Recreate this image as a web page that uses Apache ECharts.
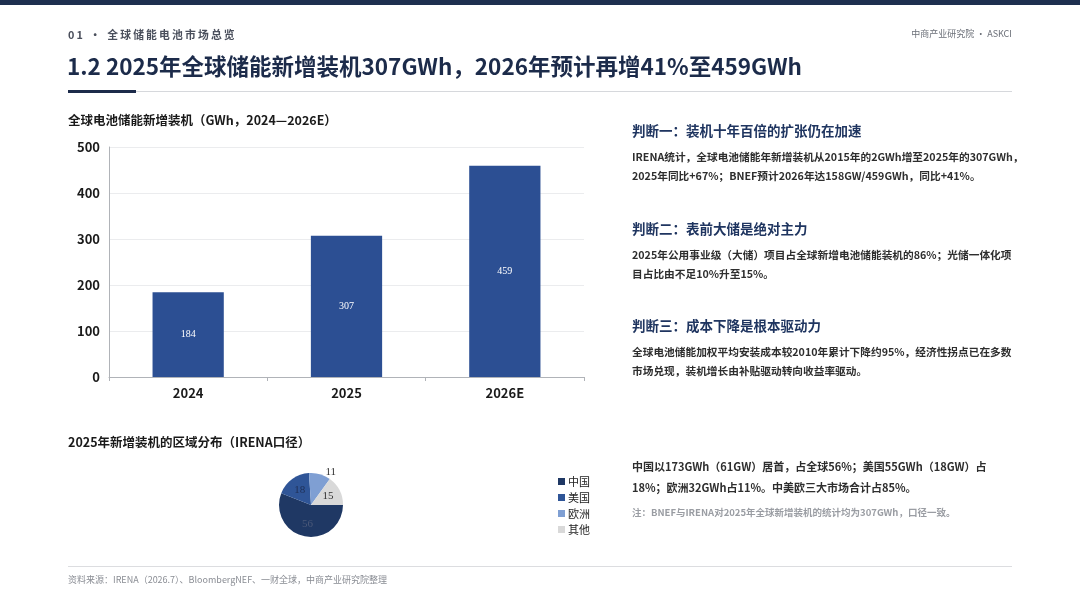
<!DOCTYPE html>
<html style="height: 100%">
  <head>
    <meta charset="utf-8" />
    <title>全球储能新增装机</title>
    <script src="https://cdn.jsdelivr.net/npm/echarts@6/dist/echarts.min.js"></script>
  </head>
  <body style="height: 100%; margin: 0; background: #fff">
    <div id="container" style="width: 1080px; height: 608px"></div>

    <script type="text/javascript">
      // 数据
      var years = ['2024', '2025', '2026E'];
      var installs = [184, 307, 459];
      var regions = ['中国', '美国', '欧洲', '其他'];
      var regionShares = [56, 18, 11, 15];
      var regionColors = ['#1f3864', '#2f5597', '#7f9fd3', '#d9d9d9'];

      // 文字
      var sectionText = '01 · 全球储能电池市场总览';
      var brandText = '中商产业研究院 · ASKCI';
      var mainTitle = '1.2 2025年全球储能新增装机307GWh，2026年预计再增41%至459GWh';
      var barTitle = '全球电池储能新增装机（GWh，2024—2026E）';
      var pieTitle = '2025年新增装机的区域分布（IRENA口径）';
      var sourceText = '资料来源：IRENA（2026.7）、BloombergNEF、一财全球，中商产业研究院整理';
      var judgements = [
        {
          head: '判断一：装机十年百倍的扩张仍在加速',
          lines: ['IRENA统计，全球电池储能年新增装机从2015年的2GWh增至2025年的307GWh，',
                  '2025年同比+67%；BNEF预计2026年达158GW/459GWh，同比+41%。']
        },
        {
          head: '判断二：表前大储是绝对主力',
          lines: ['2025年公用事业级（大储）项目占全球新增电池储能装机的86%；光储一体化项',
                  '目占比由不足10%升至15%。']
        },
        {
          head: '判断三：成本下降是根本驱动力',
          lines: ['全球电池储能加权平均安装成本较2010年累计下降约95%，经济性拐点已在多数',
                  '市场兑现，装机增长由补贴驱动转向收益率驱动。']
        }
      ];
      var regionNotes = ['中国以173GWh（61GW）居首，占全球56%；美国55GWh（18GW）占',
                         '18%；欧洲32GWh占11%。中美欧三大市场合计占85%。'];
      var footNote = '注：BNEF与IRENA对2025年全球新增装机的统计均为307GWh，口径一致。';

      var FONT = '"Noto Sans CJK SC", "Noto Sans", sans-serif';

      function spaced(s) {
        return s.split('').join('\u2009');
      }

      function txt(x, y, text, size, color, weight, align) {
        return {
          type: 'text',
          x: x,
          y: y,
          silent: true,
          style: {
            text: text,
            fontSize: size,
            fontFamily: FONT,
            fontWeight: weight || 'normal',
            fill: color,
            align: align || 'left',
            verticalAlign: 'middle'
          }
        };
      }

      var graphics = [
        { type: 'rect', shape: { x: 0, y: 0, width: 1080, height: 5 }, style: { fill: '#1e2f4f' } },
        txt(68, 35, spaced(sectionText), 10.8, '#4a4f5c', 'bold'),
        txt(1012, 34, brandText, 9, '#6b6f78', 'normal', 'right'),
        txt(67, 66, mainTitle, 22.5, '#1c2b4a', 'bold'),
        { type: 'rect', shape: { x: 68, y: 91, width: 944, height: 1 }, style: { fill: '#d6d8dc' } },
        { type: 'rect', shape: { x: 68, y: 90, width: 68, height: 3 }, style: { fill: '#1c2b4a' } },
        txt(68, 120, barTitle, 12.5, '#1a1a1a', 'bold'),
        txt(68, 442, pieTitle, 12.5, '#1a1a1a', 'bold'),
        { type: 'rect', shape: { x: 68, y: 566, width: 944, height: 1 }, style: { fill: '#dcdde0' } },
        txt(68, 580, sourceText, 9, '#8a8d94', 'normal')
      ];

      var headY = [131, 229, 326];
      judgements.forEach(function (j, i) {
        graphics.push(txt(632, headY[i], j.head, 13.5, '#1f3560', 'bold'));
        j.lines.forEach(function (line, k) {
          graphics.push(txt(632, headY[i] + 26 + k * 19, line, 10.7, '#2e2e2e', 'bold'));
        });
      });
      regionNotes.forEach(function (line, k) {
        graphics.push(txt(632, 467 + k * 21, line, 11, '#2e2e2e', 'bold'));
      });
      graphics.push(txt(632, 512, footNote, 9.5, '#9a9da3', 'bold'));

      var chart = echarts.init(document.getElementById('container'));
      chart.setOption({
        backgroundColor: '#ffffff',
        animation: false,
        graphic: graphics,
        grid: { left: 109, top: 147, width: 475, height: 230, containLabel: false },
        xAxis: {
          type: 'category',
          data: years,
          axisLine: { lineStyle: { color: '#b0b3b8' } },
          axisTick: { show: true, length: 4, lineStyle: { color: '#b0b3b8' } },
          axisLabel: { fontSize: 13, fontWeight: 'bold', color: '#1a1a1a', fontFamily: FONT, margin: 10 }
        },
        yAxis: {
          type: 'value',
          min: 0,
          max: 500,
          interval: 100,
          axisLine: { show: true, lineStyle: { color: '#b0b3b8' } },
          axisTick: { show: false },
          splitLine: { lineStyle: { color: '#ebecee' } },
          axisLabel: { fontSize: 13, fontWeight: 'bold', color: '#1a1a1a', fontFamily: FONT, margin: 9 }
        },
        legend: {
          orient: 'vertical',
          left: 553,
          top: 471,
          data: regions,
          itemWidth: 7,
          itemHeight: 7,
          itemGap: 5,
          icon: 'rect',
          textStyle: { fontSize: 11, color: '#222', fontFamily: FONT, padding: [0, 0, 0, -2] }
        },
        series: [
          {
            type: 'bar',
            data: installs,
            barWidth: '45%',
            itemStyle: { color: '#2c4f93' },
            label: {
              show: true,
              position: 'inside',
              color: '#ffffff',
              fontSize: 10,
              fontFamily: '"Liberation Serif", serif'
            }
          },
          {
            type: 'pie',
            center: [311, 505],
            radius: 32,
            startAngle: 0,
            clockwise: true,
            silent: true,
            data: regions.map(function (name, i) {
              var item = {
                name: name,
                value: regionShares[i],
                itemStyle: { color: regionColors[i] }
              };
              if (name === '中国') {
                item.label = { color: '#4a5878' };
              }
              if (name === '美国') {
                item.label = { color: '#1f2f55' };
              }
              if (name === '欧洲') {
                item.label = { position: 'outside', distance: 4 };
                item.labelLine = { show: false, length: 2, length2: 0 };
              }
              return item;
            }),
            label: {
              show: true,
              position: 'inside',
              formatter: '{c}',
              color: '#333',
              fontSize: 11,
              fontFamily: '"Liberation Serif", serif'
            },
            labelLine: { show: false }
          }
        ]
      });
    </script>
  </body>
</html>
